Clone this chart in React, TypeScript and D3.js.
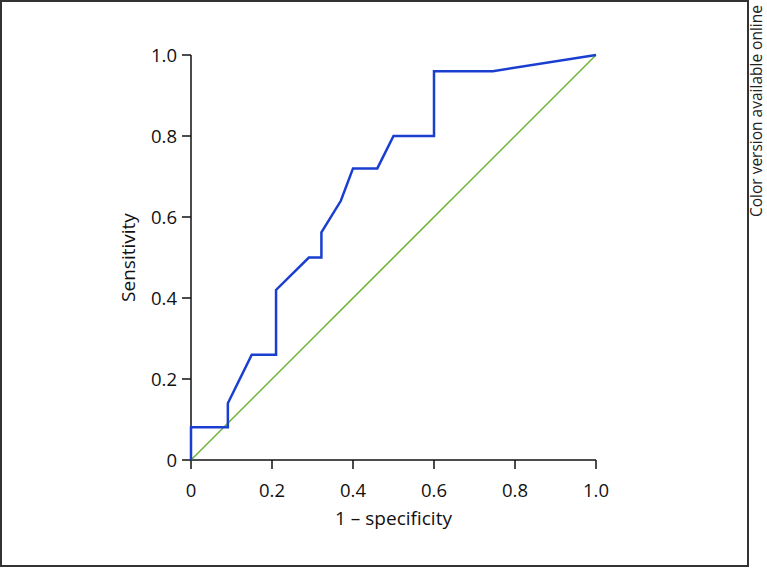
import React from "react";
import * as d3 from "d3";

const fpr = [0, 0, 0.091, 0.091, 0.15, 0.21, 0.21, 0.291, 0.322, 0.322, 0.37, 0.40, 0.46, 0.50, 0.60, 0.60, 0.745, 1.0];
const tpr = [0, 0.081, 0.081, 0.14, 0.26, 0.26, 0.42, 0.50, 0.50, 0.562, 0.64, 0.72, 0.72, 0.80, 0.80, 0.96, 0.96, 1.0];
const xTicks = [0, 0.2, 0.4, 0.6, 0.8, 1.0];
const yTicks = [0, 0.2, 0.4, 0.6, 0.8, 1.0];
const fmt = (v: number) => (v === 0 ? "0" : v.toFixed(1));

export default function App() {
  const W = 767, H = 568;
  const x = d3.scaleLinear().domain([0, 1]).range([191, 596]);
  const y = d3.scaleLinear().domain([0, 1]).range([460, 55]);
  const pts: [number, number][] = fpr.map((f, i) => [f, tpr[i]]);
  const line = d3.line<[number, number]>().x(d => x(d[0])).y(d => y(d[1]));
  const font = "'Open Sans', 'Noto Sans', sans-serif";
  return (
    <svg width={W} height={H} style={{ position: "absolute", left: 0, top: 0 }} fontFamily={font}>
      <rect x={0} y={0} width={W} height={H} fill="#fff" />
      <rect x={1} y={1} width={747} height={565} fill="none" stroke="#333" strokeWidth={2} />
      <text transform="translate(762,5) rotate(-90)" textAnchor="end" fontSize={15.5} fill="#222">Color version available online</text>
      {/* axes */}
      <line x1={x(0)} x2={x(1)} y1={y(0)} y2={y(0)} stroke="#111" strokeWidth={1.5} />
      <line x1={x(0)} x2={x(0)} y1={y(0)} y2={y(1)} stroke="#111" strokeWidth={1.5} />
      {xTicks.map(t => (
        <g key={"x" + t}>
          <line x1={x(t)} x2={x(t)} y1={y(0)} y2={y(0) + 9} stroke="#111" strokeWidth={1.5} />
          <text x={x(t)} y={y(0) + 37} textAnchor="middle" fontSize={18.5} fill="#111">{fmt(t)}</text>
        </g>
      ))}
      {yTicks.map(t => (
        <g key={"y" + t}>
          <line x1={x(0) - 9} x2={x(0)} y1={y(t)} y2={y(t)} stroke="#111" strokeWidth={1.5} />
          <text x={x(0) - 14} y={y(t) + 6.5} textAnchor="end" fontSize={18.5} fill="#111">{fmt(t)}</text>
        </g>
      ))}
      <text x={(x(0) + x(1)) / 2} y={525} textAnchor="middle" fontSize={19} fill="#111">1 – specificity</text>
      <text transform={`translate(135,${(y(0) + y(1)) / 2}) rotate(-90)`} textAnchor="middle" fontSize={19} fill="#111">Sensitivity</text>
      {/* diagonal */}
      <line x1={x(0)} y1={y(0)} x2={x(1)} y2={y(1)} stroke="#6ab42d" strokeWidth={1.5} />
      <path d={line(pts) || ""} fill="none" stroke="#1a3fd0" strokeWidth={2.5} strokeLinejoin="miter" />
    </svg>
  );
}
